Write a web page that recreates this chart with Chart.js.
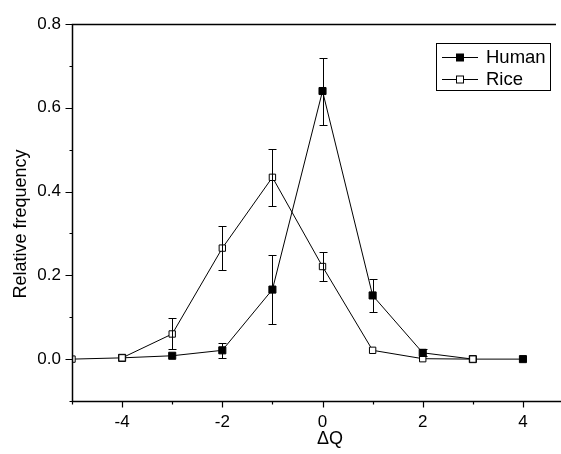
<!DOCTYPE html>
<html>
<head>
<meta charset="utf-8">
<script src="https://cdn.jsdelivr.net/npm/chart.js@4"></script>
<style>
  html, body { margin: 0; padding: 0; background: #fff; }
  #wrap { width: 561px; height: 454px; }
</style>
</head>
<body>
<div id="wrap"><canvas id="chart"></canvas></div>
<script>
const deltaQ = [-5, -4, -3, -2, -1, 0, 1, 2, 3, 4];
const human = [null, 0.003, 0.008, 0.021, 0.166, 0.640, 0.152, 0.015, 0, 0];
const humanErr = [null, 0, 0, 0.018, 0.082, 0.08, 0.04, 0.008, 0, 0];
const rice = [0, 0.003, 0.06, 0.265, 0.434, 0.221, 0.021, 0.001, 0, null];
const riceErr = [0, 0, 0.037, 0.053, 0.068, 0.035, 0, 0, 0, null];
const xTicks = [-5, -4, -3, -2, -1, 0, 1, 2, 3, 4];
const yTicks = [-0.1, 0, 0.1, 0.2, 0.3, 0.4, 0.5, 0.6, 0.7, 0.8];

const FONT = "'Liberation Sans', Arial, sans-serif";

function toPoints(vals, errs) {
  const out = [];
  deltaQ.forEach((x, i) => {
    if (vals[i] !== null) out.push({ x: x, y: vals[i], err: errs[i] });
  });
  return out;
}

// error bars, frame, ticks, axis titles and legend
const extras = {
  id: "extras",
  afterDatasetsDraw(chart) {
    const ctx = chart.ctx;
    const xs = chart.scales.x, ys = chart.scales.y;
    const area = chart.chartArea;
    ctx.save();
    ctx.strokeStyle = "#000";
    ctx.lineWidth = 1;

    // error bars
    chart.data.datasets.forEach((ds) => {
      ds.data.forEach((p) => {
        if (!p.err) return;
        const px = Math.round(xs.getPixelForValue(p.x)) + 0.5;
        const top = Math.round(ys.getPixelForValue(p.y + p.err)) + 0.5;
        const bot = Math.round(ys.getPixelForValue(p.y - p.err)) + 0.5;
        ctx.beginPath();
        ctx.moveTo(px, top); ctx.lineTo(px, bot);
        ctx.moveTo(px - 4, top); ctx.lineTo(px + 4, top);
        ctx.moveTo(px - 4, bot); ctx.lineTo(px + 4, bot);
        ctx.stroke();
      });
    });

    // frame
    const L = Math.round(area.left) + 0.5, T = Math.round(area.top) + 0.5, B = Math.round(area.bottom) + 0.5;
    ctx.lineWidth = 1.5;
    ctx.beginPath();
    ctx.moveTo(556, T); ctx.lineTo(L, T); ctx.lineTo(L, B); ctx.lineTo(561, B);
    ctx.stroke();

    // ticks
    ctx.lineWidth = 1.2;
    ctx.beginPath();
    xTicks.forEach((v) => {
      const px = Math.round(xs.getPixelForValue(v)) + 0.5;
      const len = v % 2 === 0 ? 6 : 3;
      ctx.moveTo(px, B); ctx.lineTo(px, B + len);
    });
    yTicks.forEach((v) => {
      const py = Math.round(ys.getPixelForValue(v)) + 0.5;
      const major = Math.abs(Math.round(v * 10)) % 2 === 0;
      ctx.moveTo(L, py); ctx.lineTo(L - (major ? 7 : 3), py);
    });
    ctx.stroke();

    // axis titles
    ctx.fillStyle = "#000";
    ctx.textAlign = "center";
    ctx.textBaseline = "middle";
    ctx.font = "18px " + FONT;
    ctx.fillText("ΔQ", 330, 439);
    ctx.save();
    ctx.translate(21, 224);
    ctx.rotate(-Math.PI / 2);
    ctx.fillText("Relative frequency", 0, 0);
    ctx.restore();

    // legend
    ctx.lineWidth = 1;
    ctx.strokeRect(436.5, 43.5, 114, 47);
    ctx.font = "18.5px " + FONT;
    ctx.textAlign = "left";
    const rows = [["Human", "#000", 57], ["Rice", "#fff", 79]];
    rows.forEach(([label, fill, y]) => {
      ctx.beginPath();
      ctx.moveTo(442, y + 0.5); ctx.lineTo(478, y + 0.5);
      ctx.stroke();
      ctx.fillStyle = fill;
      ctx.fillRect(456.5, y - 3, 7, 7);
      ctx.strokeRect(456.5, y - 3, 7, 7);
      ctx.fillStyle = "#000";
      ctx.fillText(label, 486, y + 1);
    });
    ctx.restore();
  }
};

new Chart(document.getElementById("chart"), {
  type: "scatter",
  data: {
    datasets: [
      {
        label: "Rice",
        data: toPoints(rice, riceErr),
        showLine: true,
        borderColor: "#000",
        borderWidth: 1,
        backgroundColor: "#fff",
        pointStyle: "rect",
        pointRadius: 4.5,
        pointBorderColor: "#000",
        pointBorderWidth: 1,
        pointBackgroundColor: "#fff",
      },
      {
        label: "Human",
        data: toPoints(human, humanErr),
        showLine: true,
        borderColor: "#000",
        borderWidth: 1,
        backgroundColor: "#000",
        pointStyle: "rect",
        pointRadius: 5,
        pointBorderColor: "#000",
        pointBorderWidth: 1,
        pointBackgroundColor: "#000",
      },
    ],
  },
  options: {
    responsive: true,
    maintainAspectRatio: false,
    animation: false,
    layout: { padding: { top: 24, right: 0, left: 0, bottom: 0 } },
    plugins: {
      legend: { display: false },
      tooltip: { enabled: false },
    },
    scales: {
      x: {
        type: "linear",
        min: -5,
        max: 4.64,
        afterBuildTicks: (s) => { s.ticks = xTicks.map((v) => ({ value: v })); },
        afterFit: (s) => { s.height = 53; },
        grid: { display: false, drawTicks: false },
        border: { display: false },
        ticks: {
          padding: 11,
          font: { family: FONT, size: 17 },
          color: "#000",
          callback: (v) => (v % 2 === 0 && v !== -5 ? String(v) : ""),
        },
      },
      y: {
        min: -0.1,
        max: 0.8,
        afterBuildTicks: (s) => { s.ticks = yTicks.map((v) => ({ value: v })); },
        afterFit: (s) => { s.width = 72; },
        grid: { display: false, drawTicks: false },
        border: { display: false },
        ticks: {
          padding: 11,
          font: { family: FONT, size: 17 },
          color: "#000",
          callback: (v) => {
            const k = Math.round(v * 10);
            return k >= 0 && k % 2 === 0 ? (k / 10).toFixed(1) : "";
          },
        },
      },
    },
  },
  plugins: [extras],
});
</script>
</body>
</html>
